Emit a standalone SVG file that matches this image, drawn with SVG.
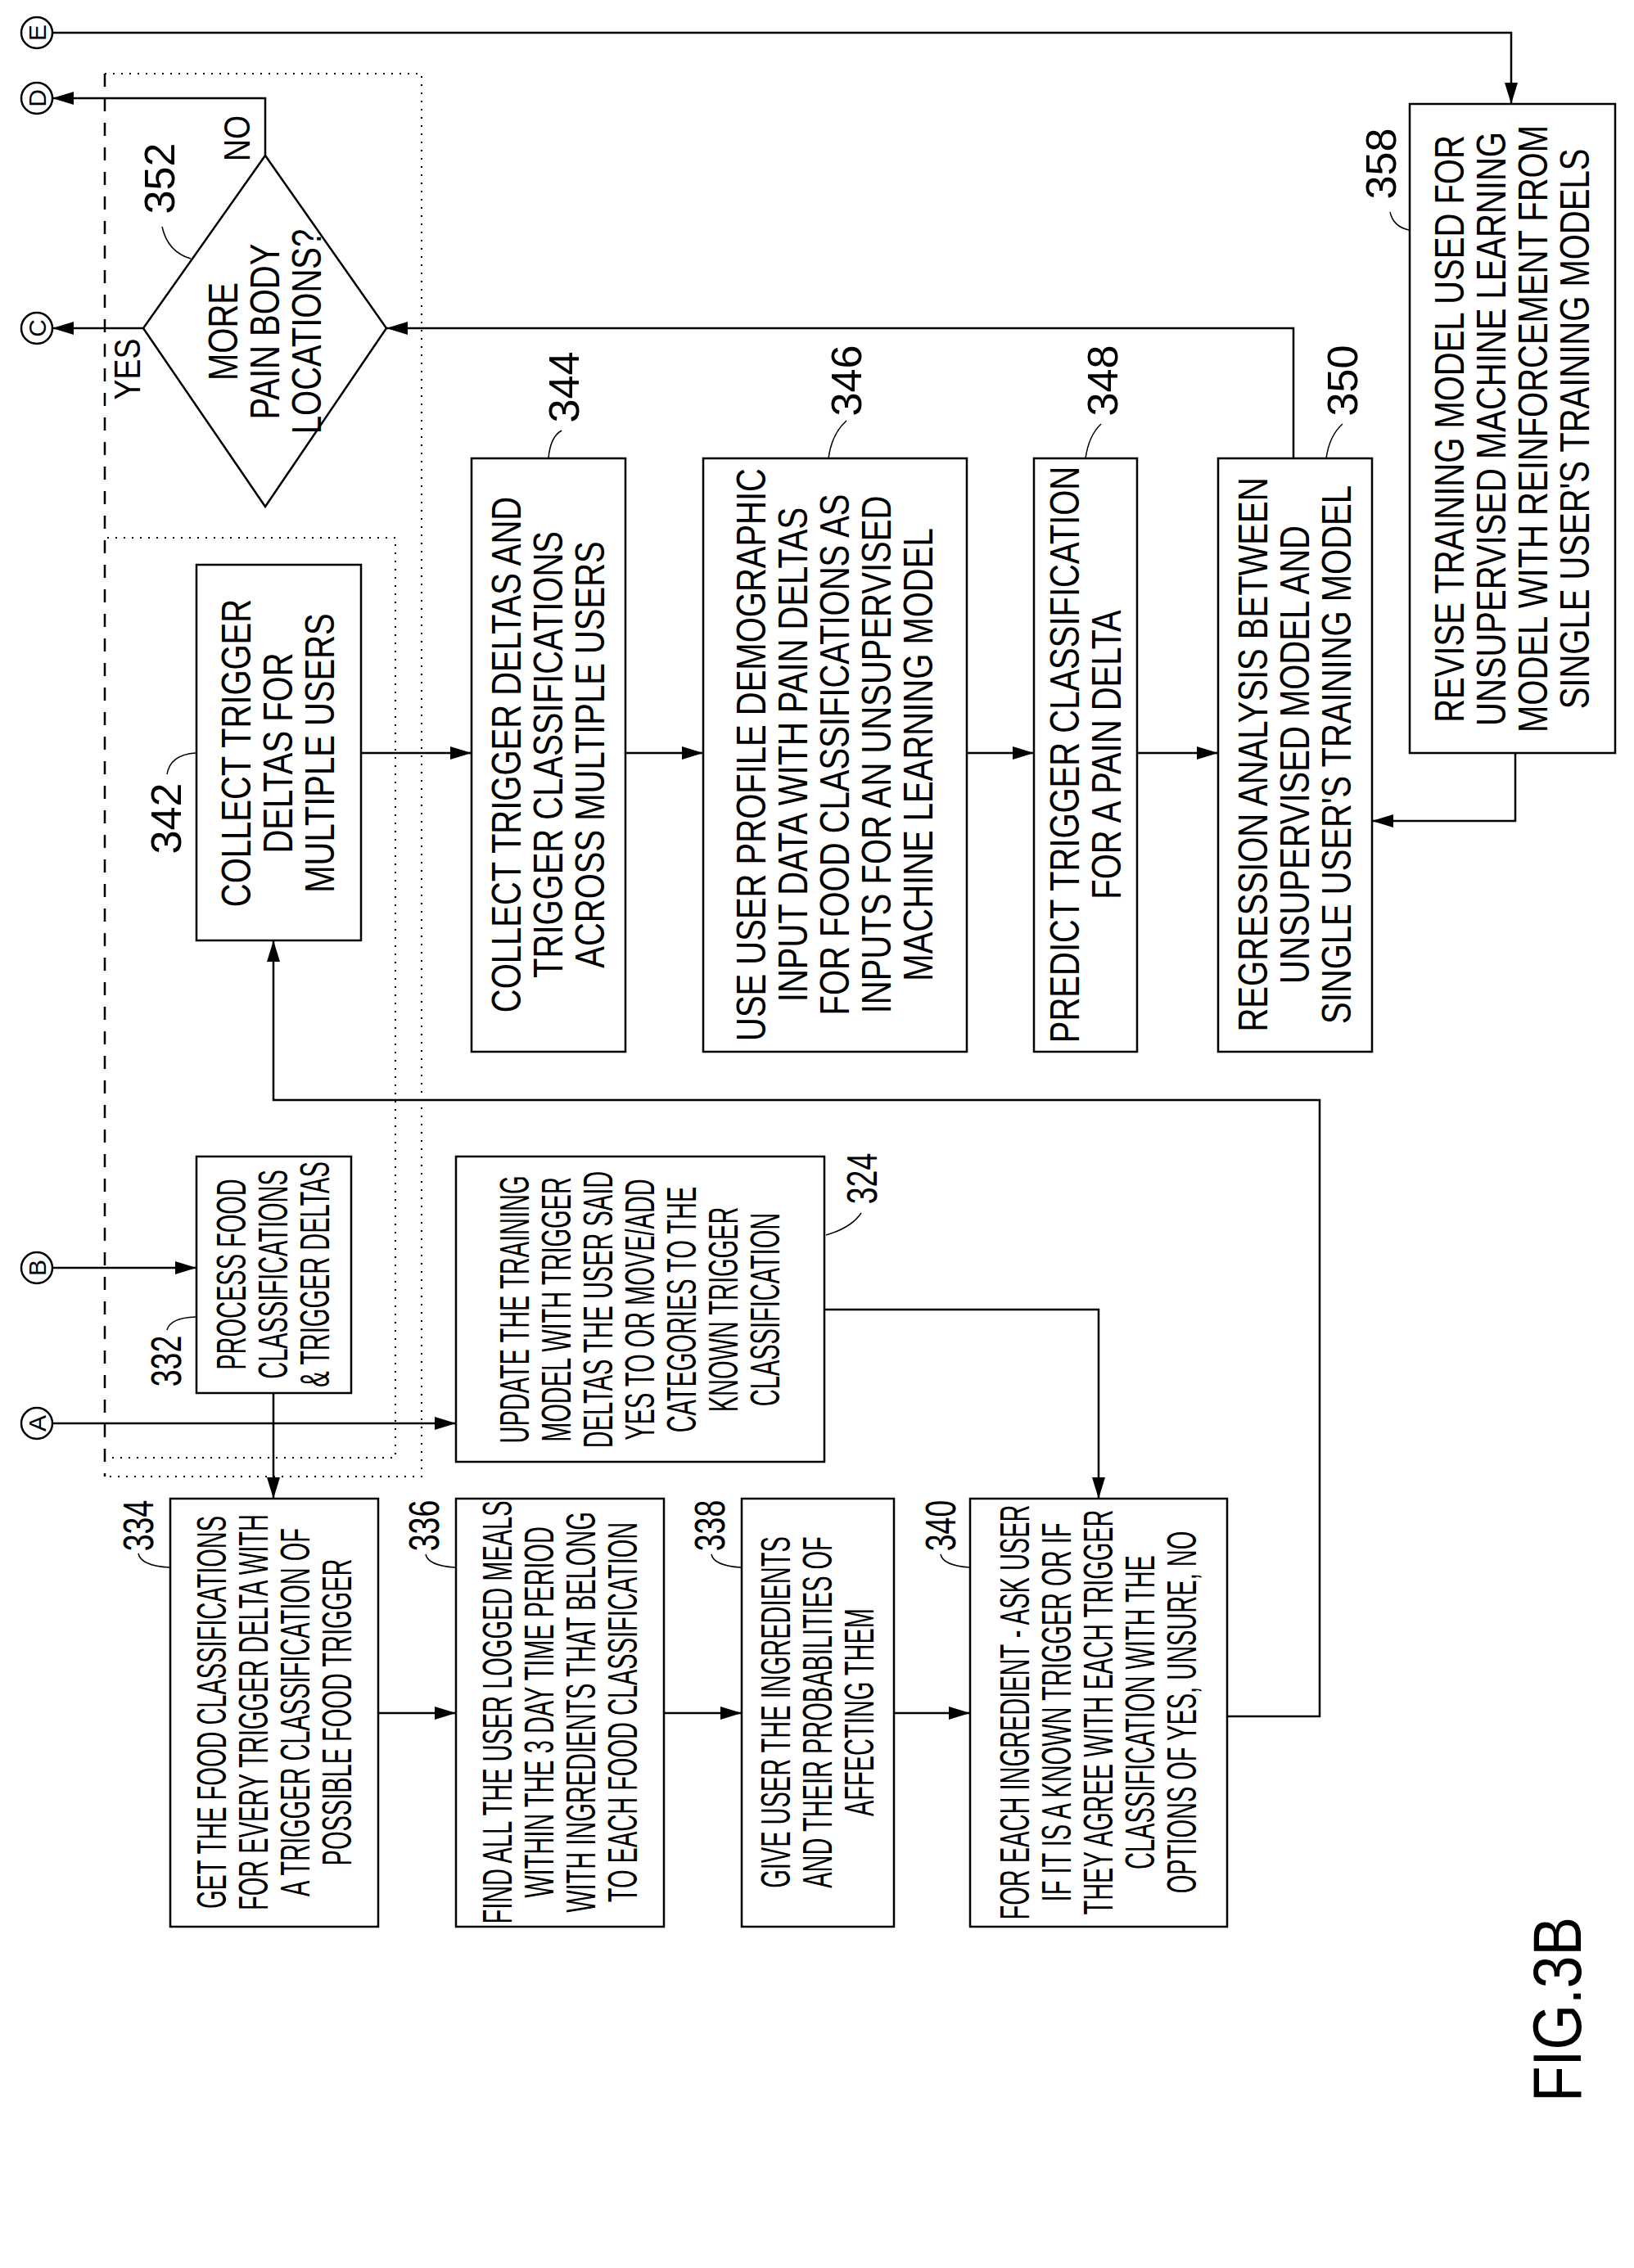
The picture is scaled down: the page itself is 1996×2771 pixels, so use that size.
<svg xmlns="http://www.w3.org/2000/svg" width="1996" height="2771" viewBox="0 0 1996 2771">
<style>
.b{fill:#fff;stroke:#000;stroke-width:2.5}
.l{fill:none;stroke:#000;stroke-width:2.5}
.ld{fill:none;stroke:#000;stroke-width:1.5}
.t{font-family:"Liberation Sans",Arial,sans-serif;font-size:50px;text-anchor:middle;dominant-baseline:central;fill:#000}
.n{font-family:"Liberation Sans",Arial,sans-serif;font-size:52px;text-anchor:middle;dominant-baseline:central;fill:#000}
.c{font-family:"Liberation Sans",Arial,sans-serif;font-size:30px;text-anchor:middle;dominant-baseline:central;fill:#000}
</style>
<defs>
<marker id="a" markerUnits="userSpaceOnUse" markerWidth="26" markerHeight="16" refX="26" refY="8" orient="auto"><path d="M0,0 L26,8 L0,16 Z" fill="#000"/></marker>
</defs>
<rect width="1996" height="2771" fill="#fff"/>
<g id="boundaries">
<path d="M128,90 V1804" fill="none" stroke="#000" stroke-width="2.5" stroke-dasharray="16,14"/>
<path d="M128,90 H515 V1804 H128" fill="none" stroke="#000" stroke-width="2" stroke-dasharray="2,8"/>
<path d="M131,657 H483 V1781 H131" fill="none" stroke="#000" stroke-width="2" stroke-dasharray="2,8"/>
</g>
<g id="connectors">
<path class="l" d="M64,40 H1846 V127" marker-end="url(#a)"/>
<path class="l" d="M324,190 V120 H64" marker-end="url(#a)"/>
<path class="l" d="M175,401 H64" marker-end="url(#a)"/>
<path class="l" d="M1580,560 V401 H472" marker-end="url(#a)"/>
<path class="l" d="M441,920 H576" marker-end="url(#a)"/>
<path class="l" d="M764,920 H859" marker-end="url(#a)"/>
<path class="l" d="M1181,920 H1263" marker-end="url(#a)"/>
<path class="l" d="M1389,920 H1488" marker-end="url(#a)"/>
<path class="l" d="M1851,920 V1003 H1676" marker-end="url(#a)"/>
<path class="l" d="M1499,2097 H1612 V1344 H334 V1149" marker-end="url(#a)"/>
<path class="l" d="M64,1549 H240" marker-end="url(#a)"/>
<path class="l" d="M64,1739 H557" marker-end="url(#a)"/>
<path class="l" d="M334,1702 V1831" marker-end="url(#a)"/>
<path class="l" d="M1007,1600 H1342 V1831" marker-end="url(#a)"/>
<path class="l" d="M462,2093 H557" marker-end="url(#a)"/>
<path class="l" d="M811,2093 H906" marker-end="url(#a)"/>
<path class="l" d="M1092,2093 H1185" marker-end="url(#a)"/>
</g>
<g id="conn-E"><circle class="b" cx="45" cy="40" r="19"/><text class="c" transform="translate(45,40) rotate(-90)">E</text></g>
<g id="conn-D"><circle class="b" cx="45" cy="120" r="19"/><text class="c" transform="translate(45,120) rotate(-90)">D</text></g>
<g id="conn-C"><circle class="b" cx="45" cy="401" r="19"/><text class="c" transform="translate(45,401) rotate(-90)">C</text></g>
<g id="conn-B"><circle class="b" cx="45" cy="1549" r="19"/><text class="c" transform="translate(45,1549) rotate(-90)">B</text></g>
<g id="conn-A"><circle class="b" cx="45" cy="1739" r="19"/><text class="c" transform="translate(45,1739) rotate(-90)">A</text></g>

<g id="n352">
<path class="b" d="M324,190 L472,401 L324,619 L175,401 Z"/>
<g transform="translate(324,405) rotate(-90) scale(0.8,1)" class="t"><text y="-51">MORE</text><text y="0">PAIN BODY</text><text y="51">LOCATIONS?</text></g>
<text class="n" transform="translate(195,218) rotate(-90)">352</text>
<path class="ld" d="M198,277 Q205,308 233,316"/>
<text class="n" transform="translate(156,451) rotate(-90) scale(0.85,1)" style="font-size:44px">YES</text>
<text class="n" transform="translate(290,169) rotate(-90) scale(0.85,1)" style="font-size:44px">NO</text>
</g>

<g id="n342">
<rect class="b" x="240" y="690" width="201" height="459"/>
<g transform="translate(340,920) rotate(-90) scale(0.8,1)" class="t"><text y="-51">COLLECT TRIGGER</text><text y="0">DELTAS FOR</text><text y="51">MULTIPLE USERS</text></g>
<text class="n" transform="translate(203,1000) rotate(-90)">342</text>
<path class="ld" d="M204,946 Q208,922 239,920"/>
</g>

<g id="n344">
<rect class="b" x="576" y="560" width="188" height="725"/>
<g transform="translate(670,922) rotate(-90) scale(0.8,1)" class="t"><text y="-51">COLLECT TRIGGER DELTAS AND</text><text y="0">TRIGGER CLASSIFICATIONS</text><text y="51">ACROSS MULTIPLE USERS</text></g>
<text class="n" transform="translate(689,473) rotate(-90)">344</text>
<path class="ld" d="M686,526 Q672,534 670,560"/>
</g>

<g id="n346">
<rect class="b" x="859" y="560" width="322" height="725"/>
<g transform="translate(1020,922) rotate(-90) scale(0.8,1)" class="t"><text y="-102">USE USER PROFILE DEMOGRAPHIC</text><text y="-51">INPUT DATA WITH PAIN DELTAS</text><text y="0">FOR FOOD CLASSIFICATIONS AS</text><text y="51">INPUTS FOR AN UNSUPERVISED</text><text y="102">MACHINE LEARNING MODEL</text></g>
<text class="n" transform="translate(1034,465) rotate(-90)">346</text>
<path class="ld" d="M1034,514 Q1016,530 1012,560"/>
</g>

<g id="n348">
<rect class="b" x="1263" y="560" width="126" height="725"/>
<g transform="translate(1326,922) rotate(-90) scale(0.8,1)" class="t"><text y="-25.5">PREDICT TRIGGER CLASSIFICATION</text><text y="25.5">FOR A PAIN DELTA</text></g>
<text class="n" transform="translate(1347,465) rotate(-90)">348</text>
<path class="ld" d="M1345,518 Q1330,532 1326,560"/>
</g>

<g id="n350">
<rect class="b" x="1488" y="560" width="188" height="725"/>
<g transform="translate(1582,922) rotate(-90) scale(0.8,1)" class="t"><text y="-51">REGRESSION ANALYSIS BETWEEN</text><text y="0">UNSUPERVISED MODEL AND</text><text y="51">SINGLE USER'S TRAINING MODEL</text></g>
<text class="n" transform="translate(1640,465) rotate(-90)">350</text>
<path class="ld" d="M1640,518 Q1624,532 1620,560"/>
</g>

<g id="n358">
<rect class="b" x="1722" y="127" width="251" height="793"/>
<g transform="translate(1847,524) rotate(-90) scale(0.8,1)" class="t"><text y="-76.5">REVISE TRAINING MODEL USED FOR</text><text y="-25.5">UNSUPERVISED MACHINE LEARNING</text><text y="25.5">MODEL WITH REINFORCEMENT FROM</text><text y="76.5">SINGLE USER'S TRAINING MODELS</text></g>
<text class="n" transform="translate(1687,200) rotate(-90)">358</text>
<path class="ld" d="M1698,259 Q1702,277 1721,281"/>
</g>

<g id="n332">
<rect class="b" x="240" y="1413" width="189" height="289"/>
<g transform="translate(334,1557) rotate(-90) scale(0.58,1)" class="t"><text y="-51">PROCESS FOOD</text><text y="0">CLASSIFICATIONS</text><text y="51">&amp; TRIGGER DELTAS</text></g>
<text class="n" transform="translate(203,1663) rotate(-90) scale(0.72,1)">332</text>
<path class="ld" d="M204,1625 Q208,1610 239,1609"/>
</g>

<g id="n324">
<rect class="b" x="557" y="1413" width="450" height="373"/>
<g transform="translate(782,1600) rotate(-90) scale(0.58,1)" class="t"><text y="-153">UPDATE THE TRAINING</text><text y="-102">MODEL WITH TRIGGER</text><text y="-51">DELTAS THE USER SAID</text><text y="0">YES TO OR MOVE/ADD</text><text y="51">CATEGORIES TO THE</text><text y="102">KNOWN TRIGGER</text><text y="153">CLASSIFICATION</text></g>
<text class="n" transform="translate(1053,1440) rotate(-90) scale(0.72,1)">324</text>
<path class="ld" d="M1052,1482 Q1040,1500 1009,1509"/>
</g>

<g id="n334">
<rect class="b" x="208" y="1831" width="254" height="523"/>
<g transform="translate(335,2092) rotate(-90) scale(0.58,1)" class="t"><text y="-76.5">GET THE FOOD CLASSIFICATIONS</text><text y="-25.5">FOR EVERY TRIGGER DELTA WITH</text><text y="25.5">A TRIGGER CLASSIFICATION OF</text><text y="76.5">POSSIBLE FOOD TRIGGER</text></g>
<text class="n" transform="translate(169,1864) rotate(-90) scale(0.72,1)">334</text>
<path class="ld" d="M169,1898 Q172,1913 207,1915"/>
</g>

<g id="n336">
<rect class="b" x="557" y="1831" width="254" height="523"/>
<g transform="translate(684,2092) rotate(-90) scale(0.58,1)" class="t"><text y="-76.5">FIND ALL THE USER LOGGED MEALS</text><text y="-25.5">WITHIN  THE 3 DAY TIME PERIOD</text><text y="25.5">WITH INGREDIENTS THAT BELONG</text><text y="76.5">TO EACH FOOD CLASSIFICATION</text></g>
<text class="n" transform="translate(518,1864) rotate(-90) scale(0.72,1)">336</text>
<path class="ld" d="M520,1899 Q523,1913 556,1915"/>
</g>

<g id="n338">
<rect class="b" x="906" y="1831" width="186" height="523"/>
<g transform="translate(999,2092) rotate(-90) scale(0.58,1)" class="t"><text y="-51">GIVE USER THE INGREDIENTS</text><text y="0">AND THEIR PROBABILITIES OF</text><text y="51">AFFECTING THEM</text></g>
<text class="n" transform="translate(867,1864) rotate(-90) scale(0.72,1)">338</text>
<path class="ld" d="M869,1899 Q872,1913 905,1915"/>
</g>

<g id="n340">
<rect class="b" x="1185" y="1831" width="314" height="523"/>
<g transform="translate(1342,2092) rotate(-90) scale(0.58,1)" class="t"><text y="-102">FOR EACH INGREDIENT - ASK USER</text><text y="-51">IF IT IS A KNOWN TRIGGER OR IF</text><text y="0">THEY AGREE WITH EACH TRIGGER</text><text y="51">CLASSIFICATION WITH THE</text><text y="102">OPTIONS OF YES, UNSURE, NO</text></g>
<text class="n" transform="translate(1149,1864) rotate(-90) scale(0.72,1)">340</text>
<path class="ld" d="M1149,1899 Q1152,1913 1185,1915"/>
</g>

<text class="n" transform="translate(1902,2455) rotate(-90) scale(0.85,1)" style="font-size:84px">FIG.3B</text>
</svg>
